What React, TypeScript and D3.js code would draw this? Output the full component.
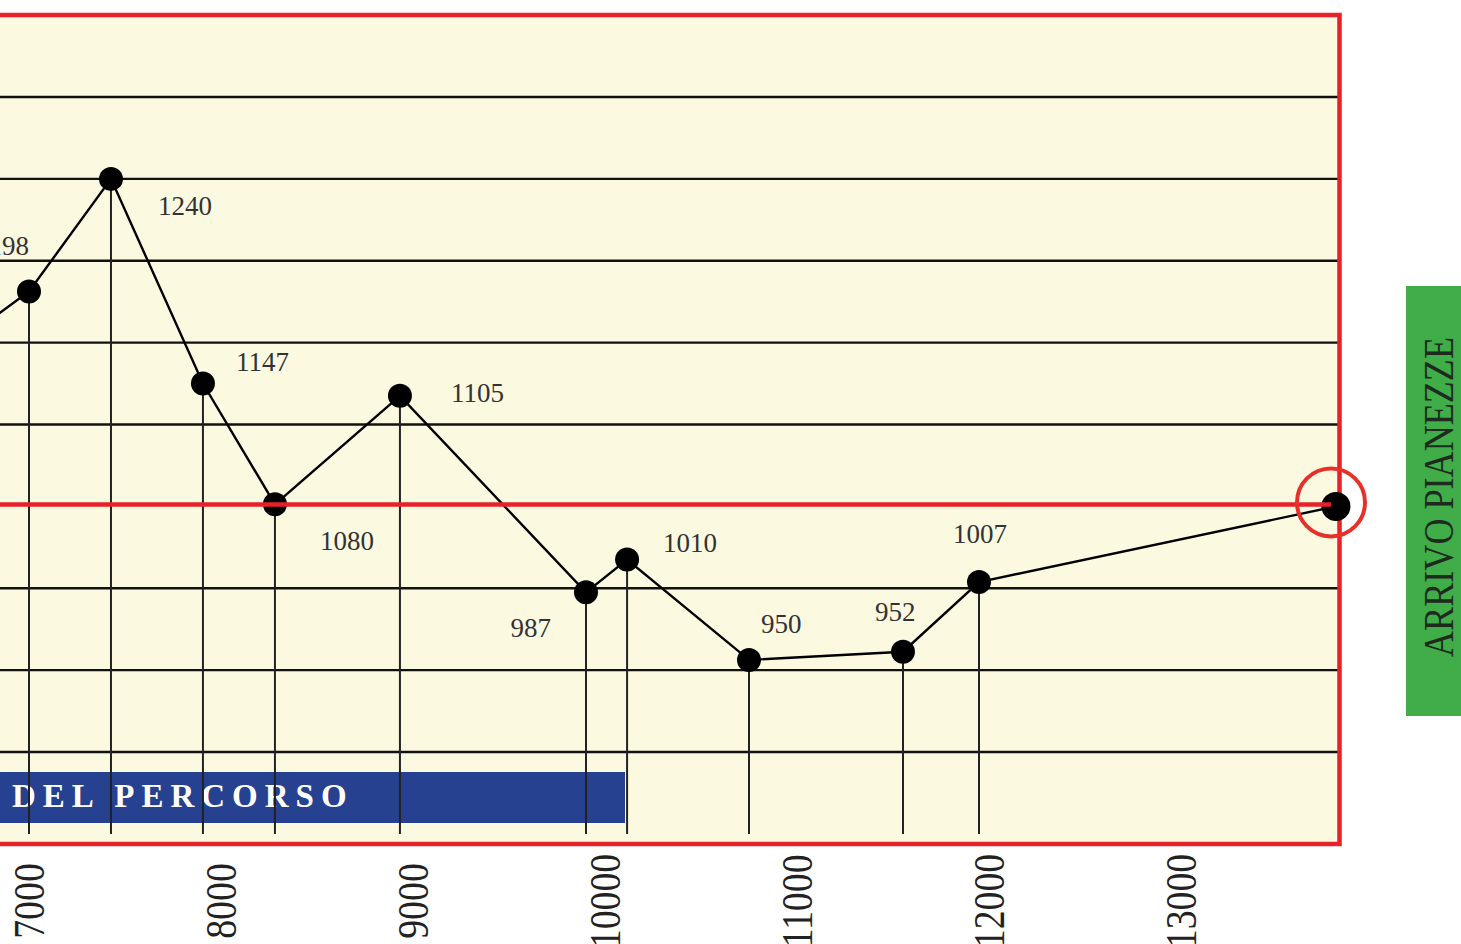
import * as d3 from "d3";
import { useEffect, useRef } from "react";

// profilo altimetrico: distanza (m) e quota come disegnata sul grafico
const distanze = [6650, 7000, 7427, 7906, 8281, 8932, 9901, 10115, 10750, 11552, 11948, 13807];
const profilo = [1161, 1185, 1240, 1140, 1081, 1134, 1038, 1054, 1005, 1009, 1043, 1080];
// quote stampate accanto ai punti
const quote = ["", "1198", "1240", "1147", "1080", "1105", "987", "1010", "950", "952", "1007", ""];
const tickKm = [7000, 8000, 9000, 10000, 11000, 12000, 13000];
const griglia = [960, 1000, 1040, 1080, 1120, 1160, 1200, 1240, 1280];
const quotaArrivo = 1080;

const W = 1461;
const H = 944;

export default function App() {
  const svgRef = useRef<SVGSVGElement>(null);

  useEffect(() => {
    const svg = d3.select(svgRef.current).html("");
    const serif = "'Liberation Serif', 'Times New Roman', serif";

    const x = d3.scaleLinear().domain([7000, 13000]).range([29, 1181]);
    const y = d3.scaleLinear().domain([960, 1280]).range([752, 97]);

    const right = 1339.5;
    const top = 15;
    const bottom = 844;
    const dropBottom = 834;

    // sfondo e cornice
    svg.append("rect")
      .attr("x", -60).attr("y", top)
      .attr("width", right + 60).attr("height", bottom - top)
      .attr("fill", "#fcf9e1")
      .attr("stroke", "#e62129")
      .attr("stroke-width", 4.5);

    // linee orizzontali
    svg.append("g").selectAll("line")
      .data(griglia.filter(d => d !== quotaArrivo))
      .enter().append("line")
      .attr("x1", 0).attr("x2", right - 2)
      .attr("y1", d => y(d)).attr("y2", d => y(d))
      .attr("stroke", "#111").attr("stroke-width", 2.4);

    // fascia blu
    svg.append("rect")
      .attr("x", -10).attr("y", 772)
      .attr("width", 635).attr("height", 51)
      .attr("fill", "#26418f");
    svg.append("text")
      .attr("x", 12).attr("y", 807)
      .attr("fill", "#fff")
      .attr("font-family", serif)
      .attr("font-weight", "bold")
      .attr("font-size", 33)
      .attr("letter-spacing", 7)
      .text("DEL PERCORSO");

    const pts = distanze.map((d, i) => ({ d, q: profilo[i], label: quote[i] }));

    // linee verticali (non all'arrivo)
    svg.append("g").selectAll("line")
      .data(pts.slice(0, -1))
      .enter().append("line")
      .attr("x1", p => x(p.d)).attr("x2", p => x(p.d))
      .attr("y1", p => y(p.q)).attr("y2", dropBottom)
      .attr("stroke", "#222").attr("stroke-width", 2);

    // profilo
    const line = d3.line<{ d: number; q: number }>()
      .x(p => x(p.d))
      .y(p => y(p.q));
    svg.append("path")
      .attr("d", line(pts))
      .attr("fill", "none")
      .attr("stroke", "#000")
      .attr("stroke-width", 2.4);

    // punti
    svg.append("g").selectAll("circle")
      .data(pts)
      .enter().append("circle")
      .attr("cx", p => x(p.d)).attr("cy", p => y(p.q))
      .attr("r", (p, i) => (i === pts.length - 1 ? 14.5 : 12))
      .attr("fill", "#000");

    // linea rossa quota arrivo
    const last = pts[pts.length - 1];
    svg.append("line")
      .attr("x1", 0).attr("x2", x(last.d) - 5)
      .attr("y1", y(quotaArrivo) - 2).attr("y2", y(quotaArrivo) - 2)
      .attr("stroke", "#e62129").attr("stroke-width", 4.5);

    // etichette quote (spostamenti rispetto al punto)
    const offsets: [number, number, string][] = [
      [0, 0, "start"], [0, -36, "end"], [47, 36, "start"], [33, -13, "start"],
      [45, 46, "start"], [51, 6, "start"], [-35, 45, "end"], [36, -8, "start"],
      [12, -27, "start"], [-28, -31, "start"], [-26, -39, "start"], [0, 0, "start"],
    ];
    svg.append("g").selectAll("text")
      .data(pts)
      .enter().append("text")
      .attr("x", (p, i) => x(p.d) + offsets[i][0])
      .attr("y", (p, i) => y(p.q) + offsets[i][1])
      .attr("text-anchor", (p, i) => offsets[i][2])
      .attr("font-family", serif)
      .attr("font-size", 27)
      .attr("fill", "#333")
      .text(p => p.label);

    // cerchio arrivo
    svg.append("circle")
      .attr("cx", 1331).attr("cy", y(quotaArrivo) - 4)
      .attr("r", 34)
      .attr("fill", "none")
      .attr("stroke", "#e8302a")
      .attr("stroke-width", 4);

    // etichette asse x
    svg.append("g").selectAll("text")
      .data(tickKm)
      .enter().append("text")
      .attr("transform", d => `translate(${x(d) + 15},901) rotate(-90) scale(0.86,1)`)
      .attr("text-anchor", "middle")
      .attr("font-family", serif)
      .attr("font-size", 44)
      .attr("fill", "#222")
      .text(d => d);

    // riquadro verde
    svg.append("rect")
      .attr("x", 1406).attr("y", 286)
      .attr("width", 70).attr("height", 430)
      .attr("fill", "#41ad49");
    svg.append("text")
      .attr("transform", "translate(1453,497) rotate(-90) scale(0.86,1)")
      .attr("text-anchor", "middle")
      .attr("font-family", serif)
      .attr("font-size", 42)
      .attr("fill", "#1e2a1e")
      .text("ARRIVO PIANEZZE");
  }, []);

  return (
    <svg
      ref={svgRef}
      width={W}
      height={H}
      style={{ position: "absolute", left: 0, top: 0, display: "block", background: "#fff" }}
    />
  );
}
